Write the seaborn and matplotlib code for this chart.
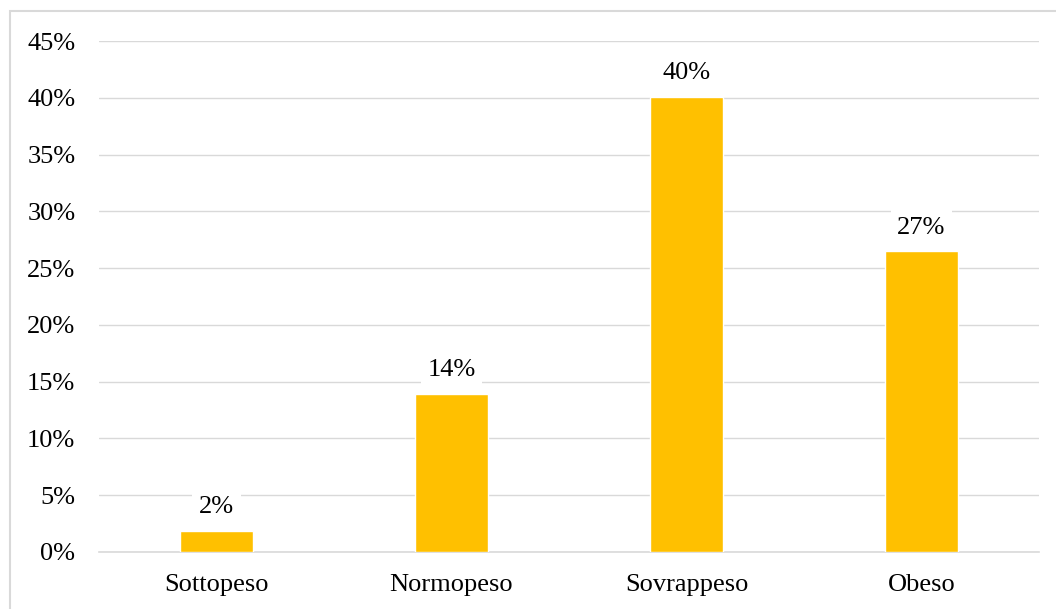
import matplotlib
matplotlib.use("Agg")
import matplotlib.pyplot as plt
import seaborn as sns
import pandas as pd
from matplotlib.ticker import MultipleLocator, FuncFormatter
from matplotlib.patches import Rectangle

categories = ["Sottopeso", "Normopeso", "Sovrappeso", "Obeso"]
values = [1.85, 13.95, 40.1, 26.5]
labels = ["2%", "14%", "40%", "27%"]

sns.set_theme(style="white")
plt.rcParams["font.family"] = ["Liberation Serif", "DejaVu Serif"]

df = pd.DataFrame({"cat": categories, "val": values})

fig = plt.figure(figsize=(10.56, 6.09), dpi=100)
ax = fig.add_axes([99/1056, 57/609, 940/1056, 511/609])

sns.barplot(data=df, x="cat", y="val", color="#FFC000", saturation=1,
            width=0.31, ax=ax, zorder=3)

ax.set_xlim(-0.5, 3.5)
ax.set_ylim(0, 45)
ax.yaxis.set_major_locator(MultipleLocator(5))
ax.yaxis.set_major_formatter(FuncFormatter(lambda v, p: f"{int(round(v))}%"))
ax.grid(axis="y", color="#D9D9D9", linewidth=1.0, zorder=0)
ax.set_axisbelow(True)
for s in ["top", "right", "left"]:
    ax.spines[s].set_visible(False)
ax.spines["bottom"].set_color("#D9D9D9")
ax.spines["bottom"].set_linewidth(1.2)
ax.set_xlabel("")
ax.set_ylabel("")
ax.tick_params(axis="both", length=0, labelsize=19, colors="#000000")
ax.tick_params(axis="y", pad=17)
ax.tick_params(axis="x", pad=16)

for i, (v, lab) in enumerate(zip(values, labels)):
    ax.annotate(lab, (i, v), xytext=(0, 9), textcoords="offset points",
                ha="center", va="bottom", fontsize=19, color="#000000",
                bbox=dict(boxstyle="square,pad=0.25", fc="white", ec="none"),
                zorder=5)

# outer chart frame
fig.patches.append(Rectangle((10/1056, -0.01), 1.1, (609-11)/609 + 0.01,
                             transform=fig.transFigure, fill=False,
                             ec="#D9D9D9", lw=1.5, zorder=0))

fig.savefig("out.png", dpi=100)
